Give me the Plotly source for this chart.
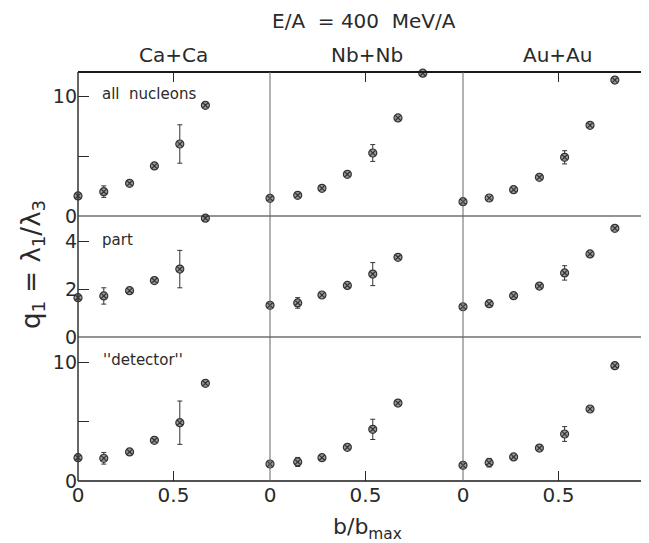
import plotly.graph_objects as go
from plotly.subplots import make_subplots

# ---------------- data ----------------
systems = ["Ca+Ca", "Nb+Nb", "Au+Au"]
row_labels = ["all  nucleons", "part", "''detector''"]

b_ca = [0, 0.135, 0.27, 0.40, 0.533, 0.667]
b_nb = [0, 0.145, 0.272, 0.405, 0.538, 0.67, 0.80]
b_au = [0, 0.137, 0.265, 0.40, 0.532, 0.665, 0.795]

ca_all = [1.67, 2.03, 2.72, 4.17, 6.0, 9.22]
ca_all_err = [0, 0.48, 0, 0, 1.6, 0]
ca_part = [1.64, 1.71, 1.93, 2.35, 2.83, 4.95]
ca_part_err = [0, 0.34, 0, 0, 0.78, 0]
ca_det = [1.96, 1.91, 2.44, 3.42, 4.9, 8.21]
ca_det_err = [0, 0.49, 0, 0, 1.82, 0]

nb_all = [1.47, 1.72, 2.31, 3.47, 5.25, 8.17, 11.9]
nb_all_err = [0, 0, 0, 0, 0.7, 0, 0]
nb_part = [1.32, 1.42, 1.75, 2.15, 2.62, 3.32]
nb_part_err = [0, 0.22, 0, 0, 0.48, 0]
nb_det = [1.43, 1.6, 1.96, 2.83, 4.34, 6.55]
nb_det_err = [0, 0.38, 0, 0, 0.85, 0]

au_all = [1.19, 1.5, 2.19, 3.22, 4.89, 7.56, 11.33]
au_all_err = [0, 0, 0, 0, 0.55, 0, 0]
au_part = [1.26, 1.39, 1.72, 2.12, 2.67, 3.46, 4.53]
au_part_err = [0, 0, 0, 0, 0.3, 0, 0]
au_det = [1.32, 1.54, 2.02, 2.77, 3.95, 6.05, 9.69]
au_det_err = [0, 0.36, 0, 0, 0.62, 0, 0]

x_tick_vals = [0, 0.5]
x_tick_text = ["0", "0.5"]
y_ticks = [([0, 5, 10], ["0", " ", "10"]),
           ([0, 2, 4], ["0", "2", "4"]),
           ([0, 5, 10], ["0", " ", "10"])]

# ---------------- figure ----------------
OFF = 8  # page body margin offset
W, H = 649 - OFF, 543 - OFF
L, R, T, B = 78 - OFF, 0, 72 - OFF, 62
PW, PH = W - L - R, H - T - B
col_px = [192, 193, PW - 192 - 193]
row_px = [144, 121, 144]
x_ranges = [[0, c / 191.0] for c in col_px]
y_ranges = [[0, 12.0], [0, 121 / 24.0], [0, 144 / 11.9]]

fig = make_subplots(rows=3, cols=3, horizontal_spacing=0, vertical_spacing=0,
                    column_widths=col_px, row_heights=row_px)

ink = "#2a2a2a"
font = "DejaVu Sans"

data = [
    [(b_ca, ca_all, ca_all_err), (b_nb, nb_all, nb_all_err), (b_au, au_all, au_all_err)],
    [(b_ca, ca_part, ca_part_err), (b_nb[:6], nb_part, nb_part_err), (b_au, au_part, au_part_err)],
    [(b_ca, ca_det, ca_det_err), (b_nb[:6], nb_det, nb_det_err), (b_au, au_det, au_det_err)],
]

for r in range(3):
    for c in range(3):
        xs, ys, es = data[r][c]
        fig.add_trace(go.Scatter(
            x=xs, y=ys, mode="markers", cliponaxis=False, showlegend=False,
            marker=dict(symbol="circle-x", size=8, color="#9a9a9a",
                        line=dict(color="#333333", width=1.2)),
            error_y=dict(type="data", array=es, visible=True, thickness=1,
                         width=2.5, color="#333333"),
        ), row=r + 1, col=c + 1)

for r in range(3):
    for c in range(3):
        xa = dict(range=x_ranges[c], showgrid=False, zeroline=False, showline=False,
                  fixedrange=True)
        if r == 0:
            xa.update(side="top", ticks="inside", tickvals=[0.5], ticklen=10,
                      tickcolor=ink, tickwidth=1, showticklabels=False)
        elif r == 2:
            xa.update(ticks="inside", tickvals=x_tick_vals, ticktext=x_tick_text,
                      ticklen=10, tickcolor=ink, tickwidth=1, showticklabels=True,
                      tickfont=dict(family=font, size=20, color=ink))
        else:
            xa.update(showticklabels=False, ticks="")
        fig.update_xaxes(**xa, row=r + 1, col=c + 1)

        ya = dict(range=y_ranges[r], showgrid=False, zeroline=False, showline=False,
                  fixedrange=True)
        tv, tt = y_ticks[r]
        if c == 0:
            ya.update(ticks="inside", tickvals=tv, ticktext=tt, ticklen=11,
                      tickcolor=ink, tickwidth=1, showticklabels=True,
                      tickfont=dict(family=font, size=19, color=ink))
        elif c == 2:
            ya.update(side="right", ticks="inside", tickvals=tv[1:], ticklen=6,
                      tickcolor=ink, tickwidth=1, showticklabels=False)
        else:
            ya.update(ticks="", showticklabels=False)
        fig.update_yaxes(**ya, row=r + 1, col=c + 1)

# frame / separators
x_div1 = col_px[0] / PW
x_div2 = (col_px[0] + col_px[1]) / PW
y_sep1 = row_px[2] / PH
y_sep2 = (row_px[2] + row_px[1]) / PH
shapes = [
    dict(type="line", xref="paper", yref="paper", x0=0, x1=1, y0=1, y1=1,
         line=dict(color="#1a1a1a", width=2)),
    dict(type="line", xref="paper", yref="paper", x0=0, x1=1, y0=0, y1=0,
         line=dict(color="#1a1a1a", width=1.6)),
    dict(type="line", xref="paper", yref="paper", x0=0, x1=1, y0=y_sep1, y1=y_sep1,
         line=dict(color="#2a2a2a", width=1.2)),
    dict(type="line", xref="paper", yref="paper", x0=0, x1=1, y0=y_sep2, y1=y_sep2,
         line=dict(color="#2a2a2a", width=1.2)),
    dict(type="line", xref="paper", yref="paper", x0=0, x1=0, y0=0, y1=1,
         line=dict(color="#333333", width=1.5)),
    dict(type="line", xref="paper", yref="paper", x0=x_div1, x1=x_div1, y0=0, y1=1,
         line=dict(color="#666666", width=1)),
    dict(type="line", xref="paper", yref="paper", x0=x_div2, x1=x_div2, y0=0, y1=1,
         line=dict(color="#666666", width=1)),
]


def px(xp, yp):
    # page pixel -> paper coords
    return (xp - OFF - L) / PW, (H - B - (yp - OFF)) / PH


anns = []
tx, ty = px(364, 21)
anns.append(dict(text="E/A  = 400  MeV/A", x=tx, y=ty, xanchor="center",
                 font=dict(family=font, size=20, color=ink)))
for name, cx in zip(systems, [173, 367, 557]):
    ax_, ay_ = px(cx, 55)
    anns.append(dict(text=name, x=ax_, y=ay_, xanchor="center",
                     font=dict(family=font, size=20, color=ink)))
for lab, (lx, ly) in zip(row_labels, [(100, 94), (100, 240), (101, 360)]):
    ax_, ay_ = px(lx, ly)
    anns.append(dict(text=lab, x=ax_, y=ay_, xanchor="left",
                     font=dict(family=font, size=15, color=ink)))
ax_, ay_ = px(32, 265)
anns.append(dict(text="q<sub>1</sub> = λ<sub>1</sub>/λ<sub>3</sub>", x=ax_, y=ay_,
                 xanchor="center", textangle=-90,
                 font=dict(family=font, size=26, color=ink)))
ax_, ay_ = px(367, 528)
anns.append(dict(text="b/b<sub>max</sub>", x=ax_, y=ay_, xanchor="center",
                 font=dict(family=font, size=22, color=ink)))

for a in anns:
    a.update(xref="paper", yref="paper", yanchor="middle", showarrow=False)

fig.update_layout(width=W, height=H, margin=dict(l=L, r=R, t=T, b=B),
                  paper_bgcolor="white", plot_bgcolor="white",
                  shapes=shapes, annotations=anns, showlegend=False)

fig.write_html("out.html")
